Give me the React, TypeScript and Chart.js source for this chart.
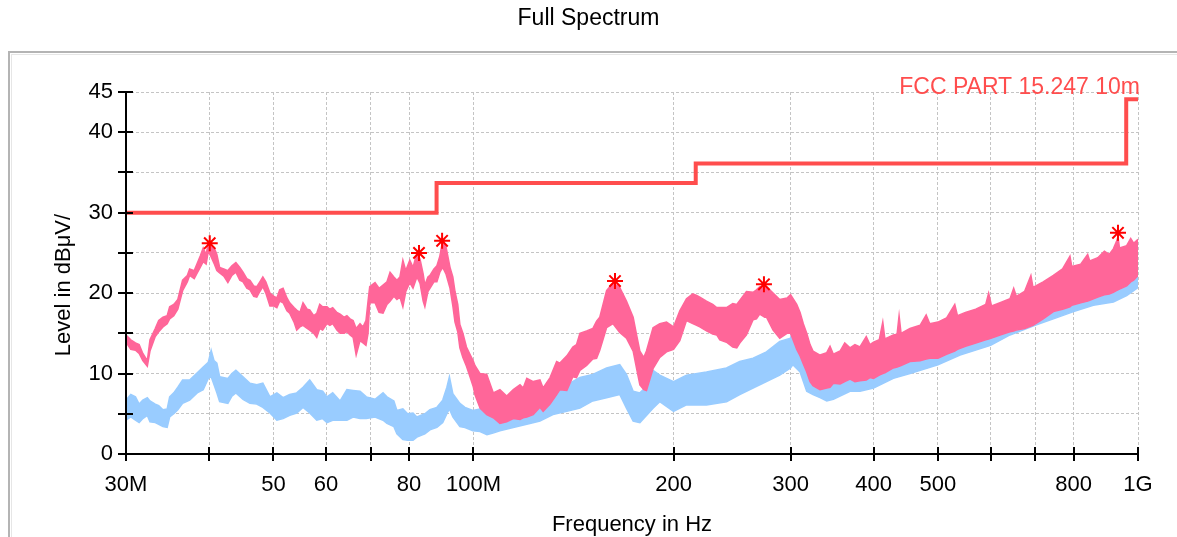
import { useEffect, useRef } from 'react';
import { Chart, registerables } from 'chart.js';

Chart.register(...registerables);

// ---------- data (frequency in MHz, level in dBµV) ----------
const pinkFreq = [
  30.0, 30.5, 31.0, 31.4, 31.8, 32.3, 32.6, 33.2, 33.6, 34.1,
  34.6, 34.9, 35.4, 35.9, 36.5, 37.1, 37.4, 38.0, 38.4, 38.8,
  39.2, 39.6, 39.9, 40.3, 40.7, 41.1, 41.5, 42.1, 42.7, 43.3,
  43.9, 44.5, 45.0, 45.6, 46.1, 46.7, 47.2, 47.7, 48.2, 48.7,
  49.4, 50.1, 50.6, 51.1, 51.7, 52.4, 52.9, 53.7, 54.2, 54.8,
  55.4, 56.2, 56.7, 57.5, 58.1, 58.7, 59.3, 60.2, 60.8, 61.4,
  62.3, 63.0, 63.9, 64.5, 65.2, 65.9, 66.6, 67.5, 68.2, 68.9,
  69.4, 69.8, 71.1, 72.1, 73.1, 74.1, 74.9, 75.9, 76.7, 77.5,
  78.3, 79.1, 80.2, 81.1, 82.2, 83.1, 84.0, 84.5, 85.4, 86.0,
  87.2, 88.1, 89.0, 89.9, 90.9, 92.2, 93.1, 93.8, 94.7, 95.4,
  96.4, 97.6, 98.8, 99.9, 100.5, 102.3, 104.7, 107.1, 109.6, 112.2,
  114.8, 117.5, 118.8, 120.3, 123.0, 125.9, 127.3, 130.4, 133.4, 134.9,
  138.2, 141.1, 142.9, 144.6, 148.0, 151.2, 153.2, 154.9, 158.6, 162.2,
  166.0, 169.9, 173.9, 176.2, 178.0, 180.4, 182.1, 186.3, 190.7, 195.2,
  200.0, 204.4, 209.2, 213.8, 216.7, 219.1, 224.2, 229.1, 232.3, 234.8,
  240.3, 245.6, 249.0, 251.6, 257.5, 263.5, 266.6, 269.6, 274.4, 276.0,
  282.4, 289.0, 296.4, 300.0, 306.5, 310.1, 313.6, 317.3, 321.0, 324.3,
  332.3, 340.1, 344.0, 348.0, 356.2, 362.0, 368.7, 375.0, 381.6, 390.0,
  395.0, 400.0, 408.0, 413.0, 416.0, 428.4, 434.0, 437.0, 440.0, 453.8,
  470.0, 480.0, 486.0, 500.0, 515.0, 530.0, 535.0, 550.0, 570.0, 590.0,
  596.0, 602.0, 620.0, 641.8, 650.0, 656.0, 675.0, 690.0, 695.0, 720.0,
  745.9, 770.0, 790.0, 795.0, 820.0, 840.0, 846.0, 870.0, 890.0, 905.0,
  918.1, 928.0, 933.0, 938.0, 961.5, 975.0, 985.0, 1000.0,
];
const pinkHi = [
  14.8, 14.2, 13.8, 13.6, 12.5, 11.6, 14.2, 15.6, 16.6, 17.0,
  17.2, 18.3, 18.6, 19.2, 21.6, 22.2, 23.0, 22.8, 23.7, 24.6,
  25.6, 24.8, 26.2, 25.8, 25.7, 24.8, 23.2, 23.0, 22.8, 23.4,
  23.8, 23.2, 22.6, 21.8, 21.6, 20.9, 20.8, 21.4, 22.0, 21.4,
  20.0, 19.6, 19.4, 20.4, 20.6, 19.4, 18.8, 18.2, 17.9, 17.6,
  18.8, 18.0, 17.9, 17.2, 17.5, 18.6, 18.3, 18.3, 18.0, 18.2,
  17.6, 17.4, 17.0, 17.2, 16.8, 16.6, 15.6, 16.2, 15.8, 16.6,
  19.0, 20.8, 21.3, 20.6, 21.0, 21.4, 22.6, 22.0, 21.6, 22.0,
  24.1, 22.8, 24.1, 23.2, 25.0, 24.2, 22.4, 21.0, 22.0, 22.2,
  23.0, 23.4, 24.6, 26.6, 25.8, 23.2, 22.0, 20.2, 18.6, 16.1,
  15.0, 13.3, 12.4, 11.6, 11.0, 10.0, 9.9, 7.6, 8.0, 7.2,
  8.0, 8.6, 8.2, 9.4, 9.0, 9.2, 8.2, 9.5, 11.5, 11.3,
  12.2, 13.3, 13.6, 15.0, 15.3, 15.6, 16.5, 17.0, 20.3, 21.3,
  20.7, 19.0, 17.0, 14.6, 12.8, 12.0, 12.8, 15.7, 16.2, 16.4,
  15.8, 17.8, 19.3, 19.9, 19.7, 19.5, 19.0, 18.6, 18.2, 18.2,
  18.2, 18.7, 18.6, 19.1, 20.2, 20.1, 20.4, 20.8, 20.7, 20.8,
  20.0, 19.2, 19.4, 19.8, 18.6, 17.6, 16.2, 15.0, 13.6, 12.8,
  12.3, 12.6, 13.4, 12.4, 12.8, 13.8, 13.2, 13.6, 13.3, 14.6,
  13.6, 13.9, 14.2, 16.4, 14.3, 14.8, 14.9, 17.2, 15.0, 15.6,
  16.0, 17.3, 16.2, 16.4, 16.9, 18.6, 17.2, 17.6, 18.0, 18.6,
  20.0, 18.4, 18.8, 19.3, 20.6, 19.6, 20.2, 22.2, 20.7, 21.4,
  22.2, 23.0, 24.6, 23.3, 23.6, 24.8, 24.0, 24.4, 25.2, 24.8,
  25.5, 26.4, 27.0, 25.6, 25.9, 26.8, 26.2, 26.7,
];
const pinkLo = [
  13.9, 13.0, 12.9, 12.5, 11.6, 10.9, 12.8, 14.6, 15.2, 15.8,
  16.2, 16.8, 17.2, 18.0, 20.3, 21.4, 22.2, 21.8, 22.5, 23.2,
  23.9, 23.6, 25.2, 24.5, 23.7, 22.8, 22.5, 22.1, 21.3, 22.2,
  22.6, 21.6, 21.4, 20.6, 20.4, 19.6, 19.5, 20.2, 20.8, 20.0,
  18.4, 18.4, 18.2, 19.0, 18.8, 17.8, 17.5, 16.4, 15.4, 15.8,
  16.0, 15.6, 15.4, 15.0, 14.5, 15.6, 15.4, 16.2, 16.0, 16.2,
  15.4, 15.0, 15.0, 15.2, 14.8, 14.5, 12.3, 14.1, 13.8, 13.5,
  15.0, 18.8, 18.8, 17.6, 17.5, 18.6, 19.0, 19.6, 19.2, 19.5,
  18.3, 20.2, 21.3, 20.6, 22.0, 21.2, 19.0, 18.3, 20.2, 20.6,
  21.4, 21.4, 22.6, 23.2, 22.4, 20.6, 18.4, 16.4, 15.2, 13.2,
  12.0, 10.9, 9.6, 8.4, 7.4, 5.7, 4.9, 4.5, 3.8, 4.0,
  4.4, 4.3, 4.5, 4.6, 4.9, 5.8, 5.3, 6.2, 7.4, 8.0,
  7.9, 9.6, 9.5, 10.4, 11.0, 11.8, 11.9, 12.9, 15.7, 16.2,
  15.1, 14.4, 12.8, 10.4, 8.6, 8.0, 7.9, 10.6, 12.0, 12.7,
  13.0, 14.1, 16.6, 16.2, 16.0, 15.8, 15.3, 14.9, 14.8, 14.2,
  13.9, 13.3, 13.2, 13.8, 14.8, 16.7, 16.8, 17.4, 17.0, 17.0,
  15.4, 14.4, 15.0, 15.0, 13.0, 12.2, 11.2, 10.2, 9.0, 8.5,
  8.0, 8.2, 8.3, 8.8, 8.7, 9.0, 9.3, 9.0, 9.1, 9.2,
  9.5, 9.4, 9.8, 10.0, 10.1, 10.7, 10.8, 10.9, 11.0, 11.5,
  11.6, 11.8, 11.9, 11.9, 12.4, 12.8, 13.0, 13.4, 13.8, 14.2,
  14.3, 14.4, 14.8, 15.2, 15.3, 15.4, 15.6, 15.9, 16.0, 16.8,
  17.7, 18.0, 18.3, 18.5, 18.8, 19.0, 19.1, 19.5, 19.8, 19.9,
  20.1, 20.3, 20.4, 20.5, 20.9, 21.4, 21.6, 22.2,
];

const blueFreq = [
  30.0, 30.5, 31.0, 31.4, 31.8, 32.3, 32.6, 33.2, 33.6, 34.1,
  34.6, 34.9, 35.4, 35.9, 36.5, 37.4, 38.4, 39.2, 39.9, 40.3,
  40.7, 41.1, 41.5, 42.7, 43.3, 43.9, 45.0, 46.1, 47.2, 48.2,
  49.4, 50.6, 51.7, 52.9, 54.2, 55.4, 56.7, 58.1, 59.3, 60.2,
  61.4, 63.0, 64.5, 65.9, 67.5, 69.0, 71.1, 73.1, 74.1, 75.9,
  76.7, 78.3, 79.6, 81.1, 82.2, 84.5, 86.0, 88.1, 89.9, 91.2,
  92.0, 93.1, 95.4, 97.1, 99.8, 102.3, 104.8, 107.0, 109.6, 114.8,
  120.3, 125.9, 131.7, 138.2, 144.6, 151.2, 158.6, 166.0, 169.9, 173.9,
  178.0, 182.1, 186.3, 190.7, 200.0, 209.2, 224.2, 240.3, 251.6, 263.5,
  276.0, 289.0, 300.0, 302.4, 310.1, 317.3, 324.3, 332.3, 340.1, 348.0,
  356.2, 368.7, 381.6, 400.0, 428.4, 453.8, 500.0, 539.8, 600.0, 641.8,
  700.0, 745.9, 800.0, 856.6, 918.1, 961.5, 1000.0,
];
const blueHi = [
  6.7, 7.4, 7.1, 6.2, 6.7, 7.0, 6.6, 6.2, 6.0, 5.5,
  5.6, 7.1, 7.6, 8.3, 9.2, 9.2, 10.1, 10.8, 11.4, 12.9,
  11.6, 11.3, 9.6, 9.4, 10.0, 10.4, 9.6, 8.8, 8.6, 8.8,
  7.1, 7.6, 7.0, 7.4, 7.6, 8.3, 9.2, 8.0, 7.8, 7.1,
  7.6, 6.6, 8.0, 7.9, 7.8, 7.1, 6.8, 7.6, 7.1, 6.6,
  5.4, 5.6, 5.0, 5.1, 4.6, 5.0, 5.5, 5.8, 6.7, 8.3,
  9.6, 7.5, 6.3, 5.8, 5.4, 5.6, 5.7, 5.8, 5.7, 6.6,
  7.0, 7.4, 8.2, 8.6, 9.5, 9.9, 10.7, 11.1, 9.9, 7.8,
  7.6, 8.4, 10.4, 9.8, 9.0, 9.8, 10.2, 10.7, 11.5, 11.9,
  12.7, 14.0, 14.4, 15.6, 13.1, 11.5, 10.2, 9.8, 10.2, 10.5,
  10.7, 11.0, 11.4, 11.8, 12.8, 13.4, 14.2, 15.2, 16.4, 17.4,
  18.4, 19.4, 20.2, 20.8, 21.4, 22.0, 22.8,
];
const blueLo = [
  4.2, 4.6, 4.2, 3.9, 4.4, 4.8, 4.0, 3.9, 3.7, 3.4,
  3.3, 4.6, 5.0, 5.5, 6.3, 6.7, 7.6, 8.0, 9.4, 9.6,
  8.6, 7.6, 6.5, 6.3, 7.2, 7.6, 6.8, 6.3, 6.2, 5.8,
  5.1, 4.2, 4.4, 4.8, 5.1, 5.8, 5.1, 4.2, 4.4, 3.9,
  4.2, 4.2, 4.2, 4.6, 4.4, 4.4, 4.6, 4.2, 3.8, 3.4,
  2.5, 1.8, 1.7, 1.7, 2.1, 2.5, 3.0, 3.3, 3.9, 5.0,
  5.6, 4.6, 3.4, 3.3, 2.9, 2.8, 2.4, 2.6, 2.9, 3.3,
  3.7, 4.1, 4.9, 5.3, 5.7, 6.6, 7.0, 7.4, 5.7, 4.1,
  3.9, 4.8, 5.7, 6.5, 5.3, 6.1, 6.1, 6.5, 7.4, 8.2,
  9.0, 9.8, 10.7, 11.1, 10.2, 7.8, 7.4, 7.0, 6.6, 6.8,
  7.2, 7.8, 7.8, 8.2, 9.4, 10.0, 11.1, 12.3, 13.5, 14.8,
  16.0, 16.8, 17.7, 18.5, 18.9, 19.7, 20.7,
];

const limitName = 'FCC PART 15.247 10m';
const limitFreq = [30, 88, 216, 960, 1000];
const limitLevel = [30, 33.7, 36.1, 44.1, 44.1];

const peakFreq = [40.1, 82.8, 89.7, 163.3, 273.6, 933];
const peakLevel = [26.2, 25.0, 26.5, 21.5, 21.1, 27.5];

const xTickValues = [30, 40, 50, 60, 70, 80, 100, 200, 300, 400, 500, 600, 700, 800, 1000];
const xTickLabels = ['30M', '', '50', '60', '', '80', '100M', '200', '300', '400', '500', '', '', '800', '1G'];
const yLabelValues = [0, 10, 20, 30, 40, 45];

const chartTitle = 'Full Spectrum';
const xTitle = 'Frequency in Hz';
const yTitle = 'Level in dBμV/';

const PINK = 'rgb(255,102,153)';
const BLUE = 'rgb(153,204,255)';
const LIMIT = 'rgb(255,77,77)';
const MARK = 'rgb(255,0,0)';
const FONT = '"Liberation Sans", Arial, Helvetica, sans-serif';

const pts = (xs: number[], ys: number[]) => xs.map((x, i) => ({ x, y: ys[i] }));

const decor = {
  id: 'decor',
  beforeDraw(chart: any) {
    const { ctx } = chart;
    ctx.save();
    ctx.fillStyle = '#ffffff';
    ctx.fillRect(0, 0, chart.width, chart.height);
    ctx.strokeStyle = '#b4b4b4';
    ctx.lineWidth = 2;
    ctx.strokeRect(9, 52, chart.width + 40, chart.height + 40);
    ctx.strokeStyle = '#e6e6e6';
    ctx.lineWidth = 1;
    ctx.strokeRect(11.5, 54.5, chart.width + 40, chart.height + 40);
    // chart title
    ctx.fillStyle = '#000';
    ctx.font = '23px ' + FONT;
    ctx.textAlign = 'center';
    ctx.textBaseline = 'alphabetic';
    ctx.fillText(chartTitle, chart.width / 2, 25);
    ctx.restore();
  },
  afterDatasetsDraw(chart: any) {
    const { ctx, chartArea: a, scales } = chart;
    const xs = scales.x;
    const ys = scales.y;
    ctx.save();
    ctx.strokeStyle = '#000';
    ctx.lineWidth = 2;
    ctx.beginPath();
    ctx.moveTo(a.left, a.top - 1);
    ctx.lineTo(a.left, a.bottom);
    ctx.lineTo(a.right, a.bottom);
    ctx.stroke();
    ctx.beginPath();
    for (const t of ys.ticks) {
      const py = Math.round(ys.getPixelForValue(t.value));
      ctx.moveTo(a.left - 8, py);
      ctx.lineTo(a.left + 7, py);
    }
    for (const t of xs.ticks) {
      const px = Math.round(xs.getPixelForValue(t.value));
      ctx.moveTo(px, a.bottom - 7);
      ctx.lineTo(px, a.bottom + 7);
    }
    ctx.stroke();
    // limit label
    ctx.fillStyle = LIMIT;
    ctx.font = '23px ' + FONT;
    ctx.textAlign = 'right';
    ctx.textBaseline = 'alphabetic';
    ctx.fillText(limitName, a.right + 2, a.top + 2);
    // y axis title
    ctx.fillStyle = '#000';
    ctx.font = '22px ' + FONT;
    ctx.textAlign = 'center';
    ctx.textBaseline = 'middle';
    ctx.translate(64, 285);
    ctx.rotate(-Math.PI / 2);
    ctx.fillText(yTitle, 0, 0);
    ctx.restore();
  },
};

export default function App() {
  const ref = useRef<HTMLCanvasElement | null>(null);
  useEffect(() => {
    if (!ref.current) return;
    const chart = new Chart(ref.current, {
      type: 'line',
      data: {
        datasets: [
          {
            label: 'peaks',
            data: pts(peakFreq, peakLevel),
            showLine: false,
            pointStyle: 'star',
            pointRadius: 8,
            pointBorderWidth: 2,
            borderColor: MARK,
            backgroundColor: MARK,
          },
          {
            label: limitName,
            data: pts(limitFreq, limitLevel),
            stepped: 'before',
            borderColor: LIMIT,
            borderWidth: 4,
            pointRadius: 0,
            fill: false,
          },
          {
            label: 'peak hi',
            data: pts(pinkFreq, pinkHi),
            borderColor: PINK,
            backgroundColor: PINK,
            borderWidth: 1.5,
            pointRadius: 0,
            fill: '+1',
          },
          {
            label: 'peak lo',
            data: pts(pinkFreq, pinkLo),
            borderColor: PINK,
            borderWidth: 1.5,
            pointRadius: 0,
            fill: false,
          },
          {
            label: 'avg hi',
            data: pts(blueFreq, blueHi),
            borderColor: BLUE,
            backgroundColor: BLUE,
            borderWidth: 1.5,
            pointRadius: 0,
            fill: '+1',
          },
          {
            label: 'avg lo',
            data: pts(blueFreq, blueLo),
            borderColor: BLUE,
            borderWidth: 1.5,
            pointRadius: 0,
            fill: false,
          },
        ],
      } as any,
      options: {
        responsive: false,
        animation: false,
        events: [],
        layout: { padding: { left: 0, right: 39, top: 92, bottom: 0 } },
        plugins: {
          legend: { display: false },
          tooltip: { enabled: false },
          title: { display: false },
        },
        scales: {
          x: {
            type: 'logarithmic',
            min: 30,
            max: 1000,
            afterBuildTicks: (axis: any) => {
              axis.ticks = xTickValues.map((v) => ({ value: v }));
            },
            afterFit: (axis: any) => {
              axis.height = 83;
            },
            ticks: {
              autoSkip: false,
              maxRotation: 0,
              color: '#000',
              padding: 18,
              font: { size: 22, family: FONT },
              callback: (v: any) => {
                const i = xTickValues.indexOf(Number(v));
                return i >= 0 ? xTickLabels[i] : '';
              },
            },
            grid: { color: '#c4c4c4', lineWidth: 1, drawTicks: false },
            border: { display: false, dash: [3, 2] },
            title: {
              display: true,
              text: xTitle,
              color: '#000',
              font: { size: 22, family: FONT },
              padding: { top: 0, bottom: -1 },
            },
          },
          y: {
            min: 0,
            max: 45,
            afterFit: (axis: any) => {
              axis.width = 126;
            },
            ticks: {
              stepSize: 5,
              color: '#000',
              padding: 13,
              font: { size: 22, family: FONT },
              callback: (v: any) => (yLabelValues.includes(Number(v)) ? String(v) : ''),
            },
            grid: { color: '#c4c4c4', lineWidth: 1, drawTicks: false },
            border: { display: false, dash: [3, 2] },
            title: { display: false },
          },
        },
      } as any,
      plugins: [decor],
    });
    return () => chart.destroy();
  }, []);
  return (
    <div style={{ position: 'absolute', left: 0, top: 0, width: 1177, height: 537, background: '#fff' }}>
      <canvas ref={ref} width={1177} height={537} style={{ display: 'block' }} />
    </div>
  );
}
